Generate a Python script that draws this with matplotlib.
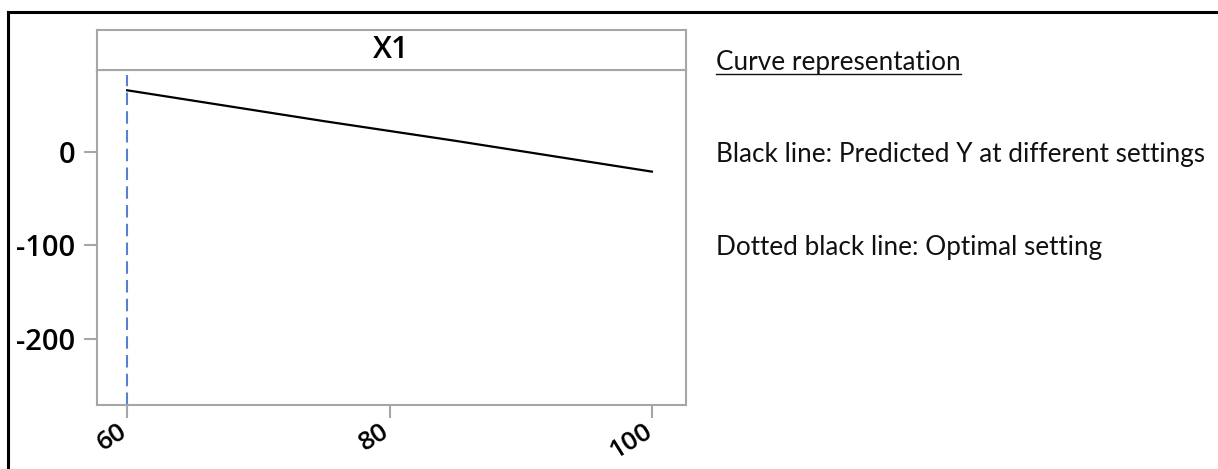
import matplotlib
matplotlib.use("Agg")
import matplotlib.pyplot as plt
import matplotlib.transforms as mtransforms
from matplotlib.lines import Line2D

# Predicted response across the X1 settings
x1_settings = [60, 65, 70, 75, 80, 85, 90, 95, 100]
predicted_y = [66, 55, 44, 33, 22.5, 12, 1, -10, -21]
optimal_x1 = 60

x_ticks = [60, 80, 100]
y_ticks = [0, -100, -200]
panel_title = "X1"
notes_heading = "Curve representation"
notes = ["Black line: Predicted Y at different settings",
         "Dotted black line: Optimal setting"]

W, H = 1218, 469
fig = plt.figure(figsize=(W / 100, H / 100), dpi=100)
fig.patch.set_facecolor("white")

grey = "#a6a6a6"
tick_font = "Open Sans"
tick_weight = "semibold"

def fx(px):
    return px / W

def fy(py):
    return 1 - py / H

# main plotting panel
left, right, top, bottom = 97, 686, 70, 405
ax = fig.add_axes([fx(left), fy(bottom), fx(right - left), fy(top) - fy(bottom)])
ax.plot(x1_settings, predicted_y, color="black", lw=1.6)
ax.axvline(optimal_x1, color="#5b7fd0", lw=1.5, ls=(0, (6, 3)), ymax=0.985)
ax.set_xlim(57.7, 102.6)
ax.set_ylim(-270.6, 87.7)
ax.set_xticks(x_ticks)
ax.set_yticks(y_ticks)
ax.set_xticklabels([str(v) for v in x_ticks], rotation=32, ha="right",
                   va="top", rotation_mode="anchor", fontsize=19,
                   family=tick_font, fontweight=tick_weight)
ax.set_yticklabels([str(v) for v in y_ticks], fontsize=21, family=tick_font,
                   fontweight=tick_weight)
for s in ax.spines.values():
    s.set_color(grey)
    s.set_linewidth(1.5)
ax.tick_params(axis="both", color=grey, width=1.5, length=9.5)
ax.tick_params(axis="y", pad=6)
ax.tick_params(axis="x", pad=2)

# nudge rotated x labels so they end under their ticks
shift = mtransforms.ScaledTranslation(-9 / 100, 2 / 100, fig.dpi_scale_trans)
for lab in ax.get_xticklabels():
    lab.set_transform(lab.get_transform() + shift)

# header strip holding the factor name
hdr_top = 30
hax = fig.add_axes([fx(left), fy(top), fx(right - left), fy(hdr_top) - fy(top)])
hax.set_xticks([])
hax.set_yticks([])
for s in hax.spines.values():
    s.set_color(grey)
    s.set_linewidth(1.5)
hax.text(0.5, 0.5, panel_title, ha="center", va="center", fontsize=22,
         family=tick_font, fontweight=tick_weight, transform=hax.transAxes)

# explanatory notes on the right
note_font = "Lato"
note_size = 18.8
note_color = "#111111"
heading = fig.text(fx(716), fy(70), notes_heading, ha="left", va="baseline",
                   fontsize=note_size, family=note_font, color=note_color)
fig.text(fx(716), fy(162), notes[0], ha="left", va="baseline",
         fontsize=note_size, family=note_font, color=note_color)
fig.text(fx(716), fy(255), notes[1], ha="left", va="baseline",
         fontsize=note_size, family=note_font, color=note_color)

fig.canvas.draw()
bb = heading.get_window_extent(fig.canvas.get_renderer())
uy = fy(74)
fig.add_artist(Line2D([bb.x0 / W, bb.x1 / W], [uy, uy], color=note_color,
                      lw=1.0, transform=fig.transFigure))

# outer frame (top and left edges)
fig.add_artist(Line2D([fx(8), 1], [fy(12), fy(12)], color="black", lw=2.2,
                      transform=fig.transFigure))
fig.add_artist(Line2D([fx(8), fx(8)], [fy(12), 0], color="black", lw=2.2,
                      transform=fig.transFigure))

fig.savefig("out.png", dpi=100)
